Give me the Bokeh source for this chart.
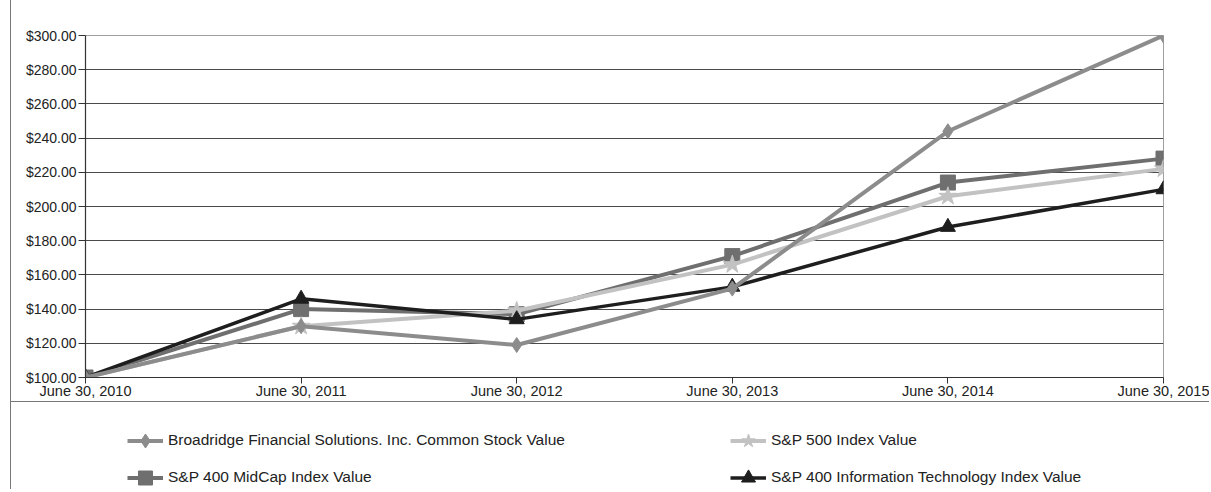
from bokeh.plotting import figure
from bokeh.layouts import column
from bokeh.models import Range1d, FixedTicker, Legend, LegendItem, NumeralTickFormatter
from bokeh.embed import file_html
from bokeh.resources import INLINE

dates = ["June 30, 2010", "June 30, 2011", "June 30, 2012", "June 30, 2013", "June 30, 2014", "June 30, 2015"]
broadridge = [100, 130, 119, 152, 244, 300]
sp500 = [100, 130, 139, 166, 206, 222]
midcap = [100, 140, 137, 171, 214, 228]
infotech = [100, 146, 134, 153, 188, 210]
y_ticks = [100, 120, 140, 160, 180, 200, 220, 240, 260, 280, 300]

names = {
    "broadridge": "Broadridge Financial Solutions. Inc. Common Stock Value",
    "sp500": "S&P 500 Index Value",
    "midcap": "S&P 400 MidCap Index Value",
    "infotech": "S&P 400 Information Technology Index Value",
}

FONT = "Liberation Sans"
xs = list(range(len(dates)))

p = figure(width=1198, height=401, output_backend="svg", toolbar_location=None,
           x_range=Range1d(0, len(dates) - 1), y_range=Range1d(100, 300),
           min_border_left=74, min_border_right=46, min_border_top=35, min_border_bottom=20)
p.background_fill_color = "white"
p.outline_line_color = "#a0a0a0"
p.xgrid.visible = False
p.ygrid.grid_line_color = "#4a4a4a"
p.ygrid.grid_line_width = 1.2
p.ygrid.ticker = FixedTicker(ticks=y_ticks)

p.xaxis.ticker = FixedTicker(ticks=xs)
p.xaxis.major_label_overrides = {i: d for i, d in enumerate(dates)}
p.yaxis.ticker = FixedTicker(ticks=y_ticks)
p.yaxis.formatter = NumeralTickFormatter(format="$0,0.00")
for ax in (p.xaxis[0], p.yaxis[0]):
    ax.axis_line_color = "#333333"
    ax.axis_line_width = 1.2
    ax.major_tick_line_color = "#333333"
    ax.major_tick_in = 0
    ax.minor_tick_line_color = None
    ax.major_label_text_font = FONT
    ax.major_label_text_color = "#222222"
p.xaxis.major_tick_out = 6
p.xaxis.major_label_standoff = -1
p.xaxis.major_label_text_font_size = "14.5px"
p.yaxis.major_tick_out = 7
p.yaxis.major_label_standoff = 2
p.yaxis.major_label_text_font_size = "14px"

styles = {
    "midcap": dict(color="#6f6f6f", marker="square", size=15, lw=4),
    "sp500": dict(color="#c2c2c2", marker="star", size=19, lw=4),
    "infotech": dict(color="#1e1e1e", marker="triangle", size=15, lw=3.5),
    "broadridge": dict(color="#8c8c8c", marker="diamond", size=15, lw=4),
}
series = {"broadridge": broadridge, "sp500": sp500, "midcap": midcap, "infotech": infotech}

q = figure(width=1198, height=88, output_backend="svg", toolbar_location=None,
           x_range=Range1d(0, 1), y_range=Range1d(0, 1),
           x_axis_location=None, y_axis_location=None,
           min_border=0, min_border_left=0, min_border_right=0, min_border_top=0, min_border_bottom=0)
q.grid.visible = False
q.outline_line_color = None
q.styles = {"border-top": "1px solid #777777"}

leg_r = {}
for key in ["midcap", "sp500", "infotech", "broadridge"]:
    st = styles[key]
    vals = series[key]
    p.line(xs, vals, line_color=st["color"], line_width=st["lw"])
    p.scatter(xs, vals, marker=st["marker"], size=st["size"], fill_color=st["color"],
              line_color=st["color"])
    # legend copies (out of view in the legend panel)
    l2 = q.line(xs, vals, line_color=st["color"], line_width=st["lw"])
    s2 = q.scatter(xs, vals, marker=st["marker"], size=st["size"], fill_color=st["color"],
                   line_color=st["color"])
    leg_r[key] = [l2, s2]

def make_legend(keys, x):
    leg = Legend(items=[LegendItem(label=names[k], renderers=leg_r[k]) for k in keys],
                 location=(x, -4.5), padding=0, spacing=2, margin=0,
                 glyph_width=36, glyph_height=35, label_height=35, label_standoff=5,
                 border_line_color=None, background_fill_alpha=0,
                 label_text_font=FONT, label_text_font_size="15.5px",
                 label_text_color="#222222")
    return leg

q.add_layout(make_legend(["broadridge", "midcap"], 42))
q.add_layout(make_legend(["sp500", "infotech"], 645))

layout = column(p, q, styles={"border-left": "1px solid #777777", "margin-left": "10px"})

open("out.html", "w").write(file_html(layout, INLINE))
